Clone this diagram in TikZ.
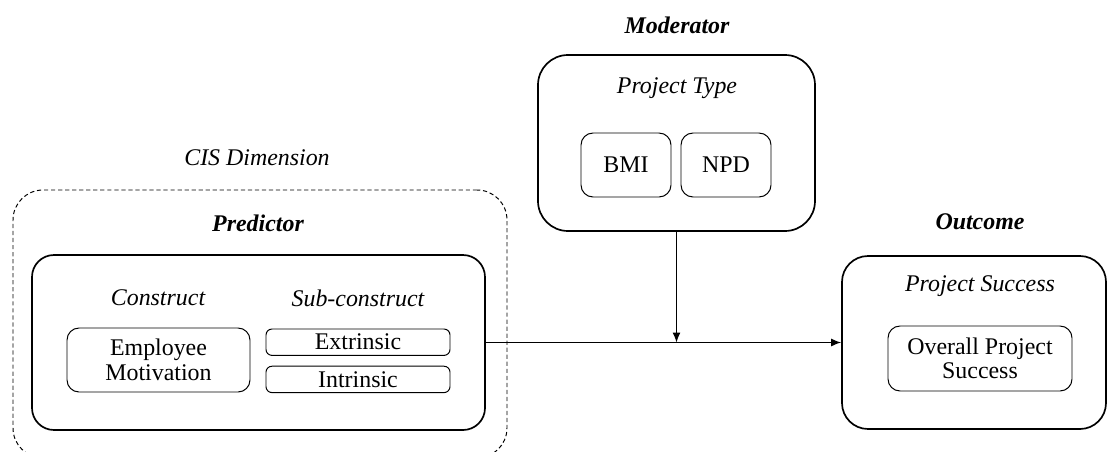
\documentclass[tikz,border=0pt]{standalone}
\usepackage{fontspec}
\setmainfont{Liberation Serif}
\usepackage{tikz}
\usetikzlibrary{arrows.meta}

\begin{document}
\begin{tikzpicture}[font=\fontsize{17}{19.5}\selectfont,
        bigbox/.style={draw, line width=1.2pt, rounded corners=0.55cm, inner sep=0pt},
        smallbox/.style={draw, line width=0.7pt, rounded corners=0.3cm, inner sep=0pt, align=center},
        heading/.style={font=\fontsize{17}{19.5}\selectfont\bfseries\itshape},
        sublabel/.style={font=\fontsize{17}{19.5}\selectfont\itshape}]
        \useasboundingbox (0,0) rectangle (27.725,11.275);
        % CIS dimension (dashed, runs off the bottom)
        \node[draw, dash pattern=on 3pt off 2pt, line width=0.7pt, rounded corners=0.75cm, minimum width=12.35cm, minimum height=6.7cm] (cis) at (6.5,3.175) {};
        \node[sublabel] (cislbl) at (6.425,7.325) {CIS Dimension};
        % predictor
        \node[heading] (predlbl) at (6.45,5.7) {Predictor};
        \node[bigbox, minimum width=11.325cm, minimum height=4.375cm] (pred) at (6.4625,2.7125) {};
        \node[sublabel] (constr) at (3.95,3.825) {Construct};
        \node[sublabel] (subconstr) at (8.95,3.825) {Sub-construct};
        \node[smallbox, minimum width=4.575cm, minimum height=1.6cm] (motiv) at (3.9625,2.275) {Employee\\[-2pt]Motivation};
        \node[smallbox, rounded corners=0.15cm, minimum width=4.6cm, minimum height=0.66cm] (extr) at (8.95,2.72) {Extrinsic};
        \node[smallbox, rounded corners=0.15cm, minimum width=4.6cm, minimum height=0.66cm] (intr) at (8.95,1.79) {Intrinsic};
        % moderator
        \node[heading] (modlbl) at (16.925,10.65) {Moderator};
        \node[bigbox, rounded corners=0.75cm, minimum width=6.925cm, minimum height=4.4cm] (mod) at (16.9125,7.7) {};
        \node[sublabel] (ptype) at (16.925,9.075) {Project Type};
        \node[smallbox, minimum width=2.25cm, minimum height=1.6cm] (bmi) at (15.65,7.15) {BMI};
        \node[smallbox, minimum width=2.25cm, minimum height=1.6cm] (npd) at (18.15,7.15) {NPD};
        % outcome
        \node[heading] (outlbl) at (24.5,5.725) {Outcome};
        \node[bigbox, rounded corners=0.65cm, minimum width=6.6cm, minimum height=4.325cm] (out) at (24.35,2.7125) {};
        \node[sublabel] (psucc) at (24.5,4.125) {Project Success};
        \node[smallbox, minimum width=4.6cm, minimum height=1.625cm] (overall) at (24.5,2.3125) {Overall Project\\[-2pt]Success};
        % connectors
        \coordinate (meet) at (mod.south |- pred.east);
        \draw[-{Latex[length=2.5mm,width=2mm]}, line width=0.9pt] (pred.east) -- (out.west);
        \draw[-{Latex[length=2.5mm,width=2mm]}, line width=0.9pt] (mod.south) -- (meet);
\end{tikzpicture}
\end{document}
